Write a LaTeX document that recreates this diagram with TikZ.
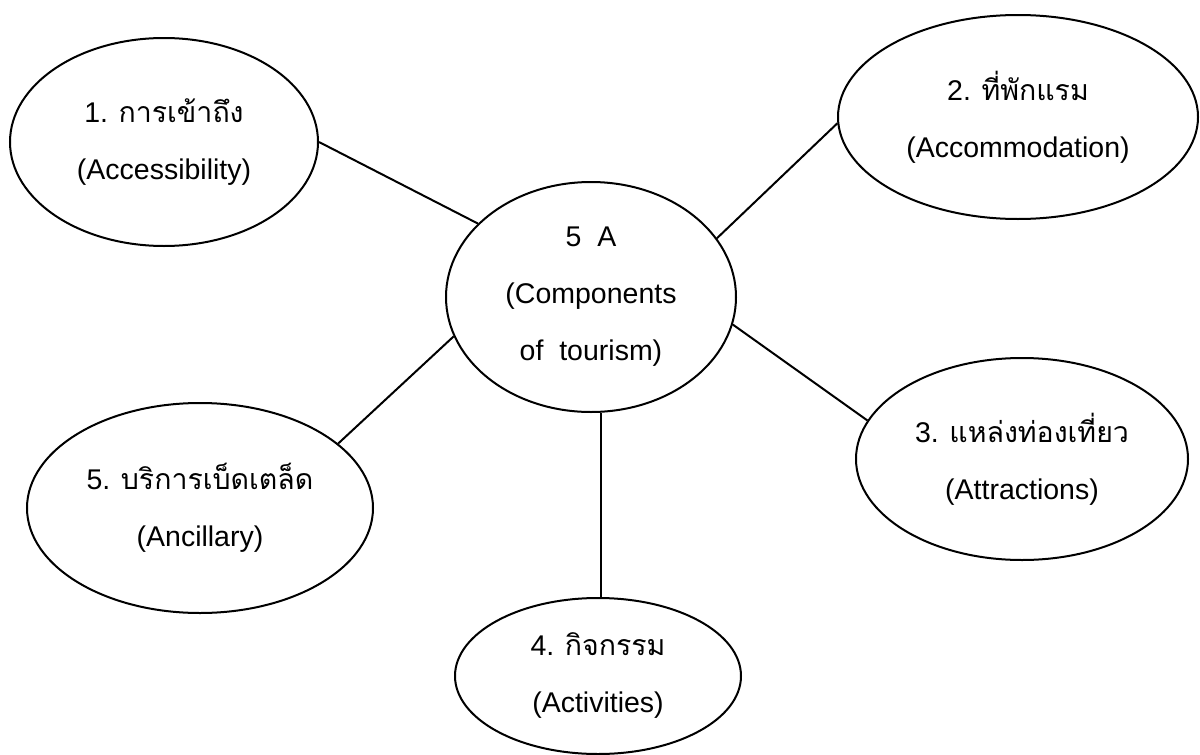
\documentclass[tikz,border=0pt]{standalone}
\usepackage{fontspec}
\setmainfont{Liberation Sans}
\newfontfamily\thaifont[Script=Thai]{Loma}
\usetikzlibrary{shapes.geometric}
\newcommand{\lw}{1pt}

\begin{document}
\begin{tikzpicture}[x=0.5pt, y=-0.5pt,
    bubble/.style={ellipse, draw, line width=\lw, inner sep=0pt, align=center,
      font=\fontsize{14.25}{28.5}\selectfont},
    link/.style={line width=\lw}]
  \useasboundingbox (0,0) rectangle (1200,755);
  \node[bubble, minimum width=145pt, minimum height=115pt] (core) at (591,297)
    {5\ \ A\\(Components\\of\ \ tourism)};
  \node[bubble, minimum width=154pt, minimum height=104pt] (acc)  at (164,142)
    {1. {\thaifont การเข้าถึง}\\(Accessibility)};
  \node[bubble, minimum width=180pt, minimum height=102pt] (acco) at (1018,117)
    {2. {\thaifont ที่พักแรม}\\(Accommodation)};
  \node[bubble, minimum width=166pt, minimum height=101pt] (attr) at (1022,459)
    {3. {\thaifont แหล่งท่องเที่ยว}\\(Attractions)};
  \node[bubble, minimum width=143pt, minimum height=78pt]  (act)  at (598,676)
    {4. {\thaifont กิจกรรม}\\(Activities)};
  \node[bubble, minimum width=173pt, minimum height=105pt] (anc)  at (200,508)
    {5. {\thaifont บริการเบ็ดเตล็ด}\\(Ancillary)};
  \draw[link] (acc.east) -- (core.147);
  \draw[link] (core.25)  -- (acco.182);
  \draw[link] (core.-11) -- (attr.166);
  \draw[link] (core.-85) -- (core.-85 |- act.north);
  \draw[link] (core.196) -- (anc.25);
\end{tikzpicture}
\end{document}
